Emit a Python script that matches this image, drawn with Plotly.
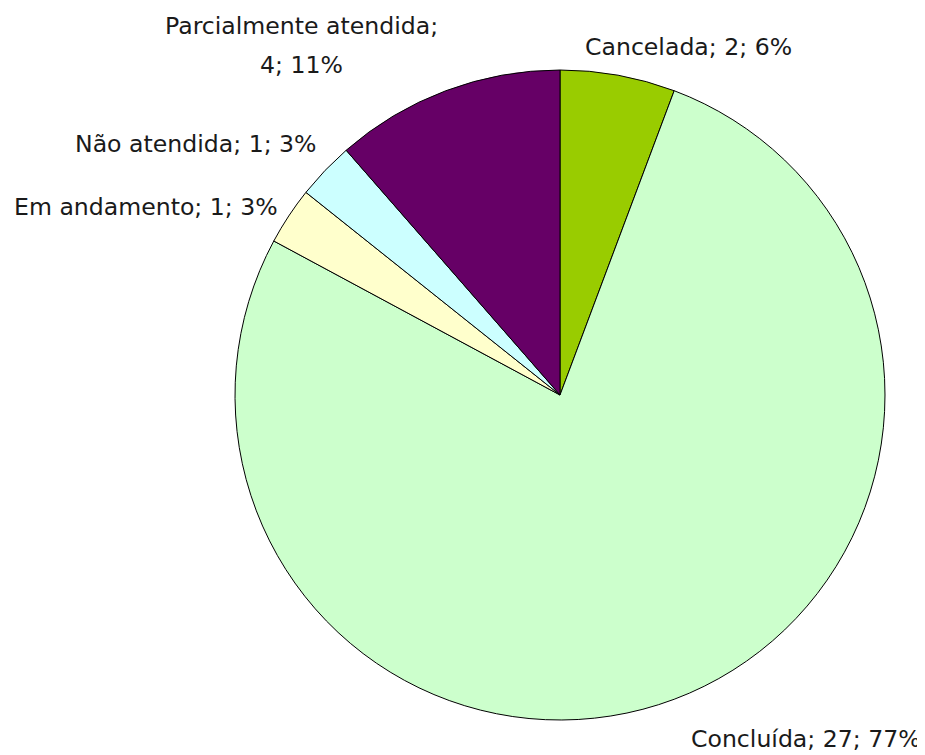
import plotly.graph_objects as go

categories = ["Cancelada", "Concluída", "Em andamento", "Não atendida", "Parcialmente atendida"]
values = [2, 27, 1, 1, 4]
colors = ["#99CC00", "#CCFFCC", "#FFFFCC", "#CCFFFF", "#660066"]

W, H = 925, 755
total = sum(values)
pcts = [round(100 * v / total) for v in values]

cx, cy, r = 552, 387, 325
fig = go.Figure(go.Pie(
    labels=categories, values=values, sort=False, direction="clockwise",
    marker=dict(colors=colors, line=dict(color="black", width=1)),
    textinfo="none", hoverinfo="label+value+percent", showlegend=False,
    domain=dict(x=[(cx - r) / W, (cx + r) / W], y=[(H - cy - r) / H, (H - cy + r) / H]),
))

# label anchor positions in pixels (centre x, centre y) per category
label_pos = {
    "Cancelada": [(680, 39)],
    "Concluída": [(798, 731)],
    "Em andamento": [(138, 199)],
    "Não atendida": [(188, 136)],
    "Parcialmente atendida": [(293, 18), (293, 57)],
}

font = dict(family="DejaVu Sans", size=23.6, color="#1a1a1a")
annotations = []
for cat, v, p in zip(categories, values, pcts):
    pos = label_pos[cat]
    if len(pos) == 1:
        texts = [f"{cat}; {v}; {p}%"]
    else:
        texts = [f"{cat};", f"{v}; {p}%"]
    for (px, py), t in zip(pos, texts):
        annotations.append(dict(text=t, x=px / W, y=1 - py / H, xref="paper", yref="paper",
                                xanchor="center", yanchor="middle", showarrow=False, font=font))

fig.update_layout(width=W, height=H, margin=dict(l=0, r=0, t=0, b=0),
                  paper_bgcolor="white", plot_bgcolor="white", annotations=annotations)
fig.write_html("out.html")
